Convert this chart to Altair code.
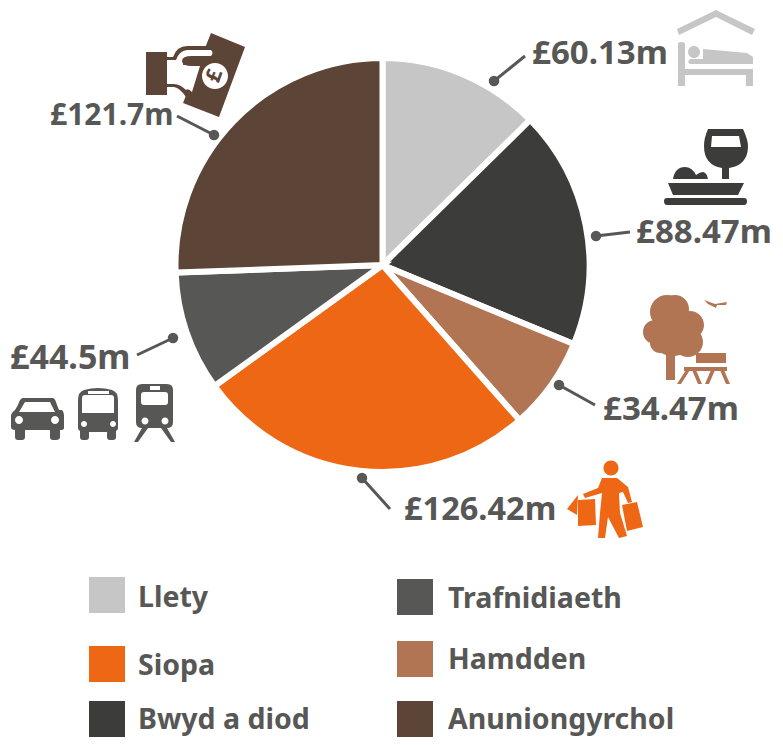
import altair as alt
import pandas as pd

# ---- data ----
categories = ["Llety", "Bwyd a diod", "Hamdden", "Siopa", "Trafnidiaeth", "Anuniongyrchol"]
values = [60.13, 88.47, 34.47, 126.42, 44.5, 121.7]
colors = ["#c6c6c6", "#3c3c3b", "#b17554", "#ee6714", "#575756", "#5c4436"]
value_labels = ["£60.13m", "£88.47m", "£34.47m", "£126.42m", "£44.5m", "£121.7m"]

# ---- layout, in page pixels ----
label_x = [532, 636, 603, 404, 10, 50]
label_y = [64, 243, 420, 520, 369, 125]
label_size = [33, 33, 33, 32.5, 34, 30]
dot_x = [494, 596, 559, 362, 173, 214]
dot_y = [81, 236, 385, 478, 338, 135]
end_x = [525, 630, 595, 390, 137, 177]
end_y = [56, 232, 405, 509, 355, 116]
legend_order = ["Llety", "Siopa", "Bwyd a diod", "Trafnidiaeth", "Hamdden", "Anuniongyrchol"]
legend_box_x = [89, 89, 89, 397, 397, 397]
legend_box_y = [577, 646, 701, 579, 641, 701]
legend_text_x = [138, 138, 138, 448, 448, 448]
legend_text_y = [607, 675, 729, 608, 669, 729]

LABEL_FONT = "Noto Sans"
TEXT = "#575756"


def circ(cx, cy, r, sweep=1):
    return (f"M{cx-r} {cy}A{r} {r} 0 1 {sweep} {cx+r} {cy}"
            f"A{r} {r} 0 1 {sweep} {cx-r} {cy}Z")


money_note = ("M91 33L125 47L99 117L63 103Z" + circ(95, 76, 13, 0))
money_hand = ("M26 52H47V57H53Q57 46 67 46H92V56H85L72 100L66 97Q60 88 54 87H47V95H26Z")
money_inner = ("M47 60H56Q59 51 67 50H91Q94 53 91 56H72Q62 56 62 61Q62 66 72 66H80L72 92"
               "Q68 88 66 90Q60 84 54 84H47Z")

bed = ("M37 29L76 10L115 29L112 35L76 17L39 35Z"
       "M38 44Q38 42 41 42Q45 42 45 44V69H113V86H106V75H45V86H38Z"
       + circ(54, 52, 6) +
       "M63 49L107 53L113 57V64H50L48 62L50 59H63Z")
food = ("M68 129H103Q108 140 108 146Q108 165 89 168V179H82V168Q64 165 64 146Q64 138 68 129Z"
        "M72 136L71 147H101L99 136Z"
        "M33 179Q35 167 45 167Q52 167 56 175Q60 172 63 172Q67 173 68 179Z"
        "M28 183H104L98 195H33Z"
        "M27 198H104Q107 198 107 201Q107 205 104 205H27Q24 205 24 201Q24 198 27 198Z")
park = (circ(37, 27, 17) + circ(45, 24, 14) + circ(60, 40, 14) + circ(25, 47, 12) + circ(43, 48, 23)
        + circ(58, 57, 15) + circ(30, 58, 10) +
        "M36 70H45V95H36Z"
        "M66 68H96V78H66Z"
        "M54 82H97V86H54Z"
        "M56 85H60L51 99H47Z"
        "M62 85H66L72 99H68Z"
        "M81 85H85L79 99H75Z"
        "M90 85H94L100 99H96Z"
        "M74 15L85 19L97 17L96 20L87 20L86 23L78 19Z")
car = ("M23 68H53Q55 68 57 75L59 80H62Q64 82 64 85V98Q64 100 60 100V107Q60 110 56 110H53Q50 110 50 107"
       "V100H25V107Q25 110 22 110H18Q15 110 15 107V100Q11 100 11 97V86Q11 83 15 80L18 75Q20 68 23 68Z"
       "M25 72L19 82H55L50 72Z" + circ(19, 90, 4, 0) + circ(55, 90, 4, 0))
bus = ("M84 60Q98 56 112 60Q118 62 118 70V98Q118 100 116 101V107Q116 110 113 110H110Q107 110 107 107"
       "V102H89V107Q89 110 86 110H83Q80 110 80 107V101Q78 100 78 98V70Q78 62 84 60Z"
       "M85 65Q82 65 82 68V83H114V68Q114 65 111 65Z"
       "M88 61V64H109V61Z" + circ(84, 94, 3, 0) + circ(113, 94, 3, 0))
train = ("M142 54H167Q173 54 173 60V92Q173 98 167 98H142Q136 98 136 92V60Q136 54 142 54Z"
         "M144 62Q141 62 141 65V72Q141 75 144 75H165Q168 75 168 72V65Q168 62 165 62Z"
         "M150 56V60H160V56Z" + circ(145, 91, 3.5, 0) + circ(165, 91, 3.5, 0) +
         "M142 98H148L138 112H134Z"
         "M161 98H167L175 112H171Z")
shopper = (circ(261, 18, 7.5) +
           "M252 28H267L278 37L282 52L278 53L273 42L269 43L270 63L277 86L269 88L258 67L255 88H248L250 63L252 43"
           "L235 48L233 44L248 38Z"
           "M272 55L287 52L293 77L277 81Z"
           "M228 50L245 49L246 75L228 76Z"
           "M217 59L228 45L227 65Z")

icons = pd.DataFrame({
    "x": [120, 120, 120, 640, 640, 630, 0, 0, 0, 350],
    "y": [0, 0, 0, 0, 0, 285, 330, 330, 330, 450],
    "path": [money_note, money_hand, money_inner, bed, food, park, car, bus, train, shopper],
    "color": ["#5c4436", "#5c4436", "#ffffff", "#c6c6c6", "#3c3c3b", "#b17554",
              "#575756", "#575756", "#575756", "#ee6714"],
    "n": list(range(10)),
})

pie_df = pd.DataFrame({"cat": categories, "val": values, "idx": range(6), "color": colors})
lab_df = pd.DataFrame({"t": value_labels, "x": label_x, "y": label_y, "s": label_size})
lead_df = pd.DataFrame({"x": dot_x, "y": dot_y, "x2": end_x, "y2": end_y})
leg_df = pd.DataFrame({
    "t": legend_order,
    "bx": legend_box_x,
    "by": legend_box_y,
    "tx": legend_text_x,
    "ty": legend_text_y,
    "color": [colors[categories.index(c)] for c in legend_order],
})
leg_df["bx2"] = leg_df.bx + 36
leg_df["by2"] = leg_df.by + 36

X = alt.Scale(domain=[8, 775])
Y = alt.Scale(domain=[8, 737], reverse=True)


def px(f):
    return alt.X(f + ":Q", scale=X, axis=None)


def py(f):
    return alt.Y(f + ":Q", scale=Y, axis=None)


pie = alt.Chart(pie_df).mark_arc(outerRadius=207, stroke="#ffffff", strokeWidth=6).encode(
    theta=alt.Theta("val:Q", stack=True),
    order=alt.Order("idx:Q"),
    color=alt.Color("color:N", scale=None),
    x=alt.value(374.5),
    y=alt.value(257),
)
leaders = alt.Chart(lead_df).mark_rule(color=TEXT, strokeWidth=3).encode(
    x=px("x"), y=py("y"), x2="x2:Q", y2="y2:Q")
dots = alt.Chart(lead_df).mark_circle(color=TEXT, opacity=1, size=110).encode(x=px("x"), y=py("y"))
labels = alt.Chart(lab_df).mark_text(
    font=LABEL_FONT, fontWeight="bold", color=TEXT, align="left", baseline="alphabetic"
).encode(x=px("x"), y=py("y"), text="t:N", size=alt.Size("s:Q", scale=None))
boxes = alt.Chart(leg_df).mark_rect().encode(
    x=px("bx"), y=py("by"), x2="bx2:Q", y2="by2:Q", color=alt.Color("color:N", scale=None))
leg_text = alt.Chart(leg_df).mark_text(
    font=LABEL_FONT, fontWeight="bold", fontSize=28.5, color=TEXT, align="left", baseline="alphabetic"
).encode(x=px("tx"), y=py("ty"), text="t:N")
icon_layer = alt.Chart(icons).mark_point(filled=True, opacity=1, size=4, strokeWidth=0).encode(
    x=px("x"), y=py("y"),
    shape=alt.Shape("path:N", scale=None),
    color=alt.Color("color:N", scale=None),
    order=alt.Order("n:Q"),
)
thumb = alt.Chart(pd.DataFrame({"x": [183], "y": [63], "x2": [203], "y2": [63]})).mark_rule(
    color="#5c4436", strokeWidth=4).encode(x=px("x"), y=py("y"), x2="x2:Q", y2="y2:Q")
pound = alt.Chart(pd.DataFrame({"x": [215], "y": [76], "t": ["£"]})).mark_text(
    font=LABEL_FONT, fontWeight="bold", fontSize=21, color="#5c4436", angle=290,
    align="center", baseline="middle"
).encode(x=px("x"), y=py("y"), text="t:N")

chart = alt.layer(pie, leaders, dots, labels, boxes, leg_text, icon_layer, thumb, pound).properties(
    width=767, height=729, padding=0, background="#ffffff", autosize=alt.AutoSizeParams(type="none")
).configure_view(stroke=None)

chart.save("out.html", embed_options={"renderer": "svg", "actions": False})
